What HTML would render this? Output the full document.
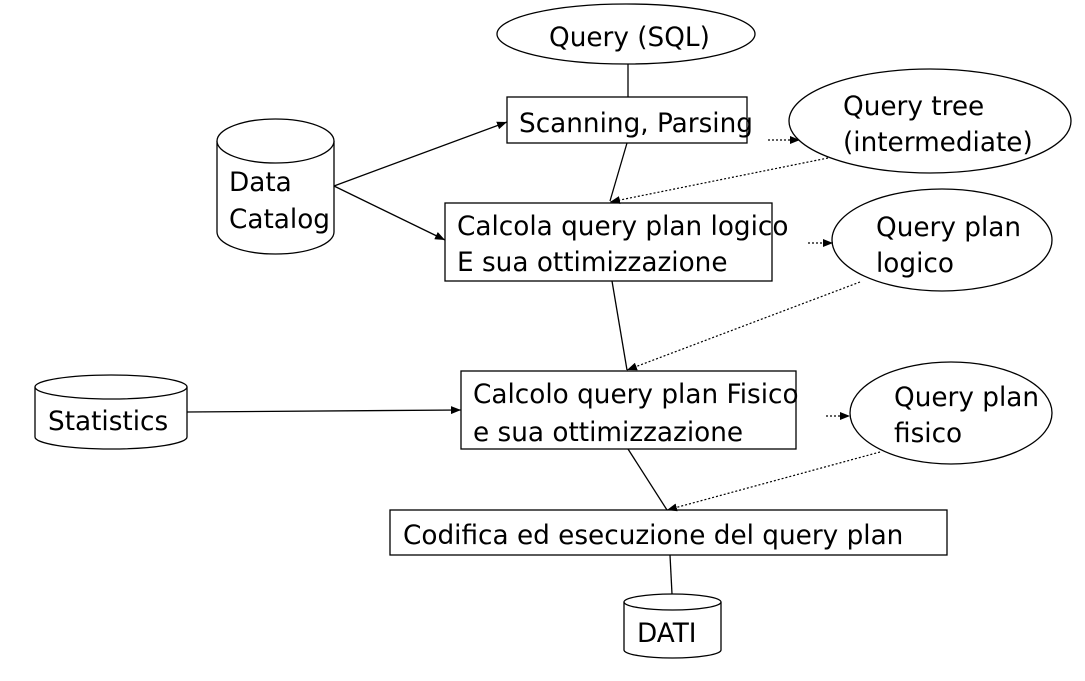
<!DOCTYPE html>
<html><head><meta charset="utf-8"><style>
html,body{margin:0;padding:0;background:#fff;}
svg{display:block;}
text{font-family:"DejaVu Sans","Liberation Sans",sans-serif;font-size:26.3px;fill:#000;}
</style></head><body>
<svg width="1085" height="681" viewBox="0 0 1085 681" xmlns="http://www.w3.org/2000/svg">
<defs>
<marker id="a" markerWidth="10" markerHeight="8" refX="10" refY="4" orient="auto" markerUnits="userSpaceOnUse"><path d="M0,0 L10,4 L0,8z" fill="#000"/></marker>
</defs>
<g fill="none" stroke="#000" stroke-width="1.3">
<ellipse cx="626" cy="34" rx="129" ry="30" fill="#fff"/>
<line x1="628" y1="64" x2="628" y2="97"/>
<rect x="507" y="97" width="240" height="46" fill="#fff"/>
<ellipse cx="930" cy="121" rx="141" ry="52" fill="#fff"/>
<rect x="445" y="203" width="327" height="78" fill="#fff"/>
<ellipse cx="942" cy="240" rx="110" ry="51" fill="#fff"/>
<rect x="461" y="371" width="335" height="78" fill="#fff"/>
<ellipse cx="951" cy="413" rx="101" ry="51" fill="#fff"/>
<rect x="390" y="510" width="557" height="45" fill="#fff"/>
<path d="M217,141 L217,232 A58.5,22 0 0 0 334,232 L334,141" fill="#fff"/>
<ellipse cx="275.5" cy="141" rx="58.5" ry="22" fill="#fff"/>
<path d="M35,387 L35,437 A76,12 0 0 0 187,437 L187,387" fill="#fff"/>
<ellipse cx="111" cy="387" rx="76" ry="12" fill="#fff"/>
<path d="M624,602 L624,650 A48.5,8 0 0 0 721,650 L721,602" fill="#fff"/>
<ellipse cx="672.5" cy="602" rx="48.5" ry="8" fill="#fff"/>
<line x1="627" y1="143" x2="610" y2="201"/>
<line x1="612" y1="281" x2="627" y2="370"/>
<line x1="628" y1="449" x2="667" y2="510"/>
<line x1="670" y1="555" x2="672" y2="594"/>
<line x1="334" y1="186" x2="507" y2="122" marker-end="url(#a)"/>
<line x1="334" y1="186" x2="445" y2="240" marker-end="url(#a)"/>
<line x1="187" y1="412" x2="461" y2="410" marker-end="url(#a)"/>
<g stroke-dasharray="2,2" stroke-width="1.2">
<line x1="768" y1="140" x2="800" y2="140" marker-end="url(#a)"/>
<line x1="828" y1="158" x2="610" y2="202" marker-end="url(#a)"/>
<line x1="808" y1="243" x2="833" y2="243" marker-end="url(#a)"/>
<line x1="860" y1="282" x2="627" y2="370" marker-end="url(#a)"/>
<line x1="826" y1="416" x2="850" y2="416" marker-end="url(#a)"/>
<line x1="880" y1="452" x2="667" y2="510" marker-end="url(#a)"/>
</g>
</g>
<text x="549" y="46">Query (SQL)</text>
<text x="519" y="132">Scanning, Parsing</text>
<text x="843" y="115">Query tree</text>
<text x="843" y="151">(intermediate)</text>
<text x="229" y="191">Data</text>
<text x="229" y="228">Catalog</text>
<text x="457" y="235">Calcola query plan logico</text>
<text x="457" y="271">E sua ottimizzazione</text>
<text x="876" y="236">Query plan</text>
<text x="876" y="272">logico</text>
<text x="48" y="430">Statistics</text>
<text x="473" y="403">Calcolo query plan Fisico</text>
<text x="473" y="441">e sua ottimizzazione</text>
<text x="894" y="406">Query plan</text>
<text x="894" y="442">fisico</text>
<text x="403" y="544">Codifica ed esecuzione del query plan</text>
<text x="637" y="642">DATI</text>
</svg>
</body></html>
